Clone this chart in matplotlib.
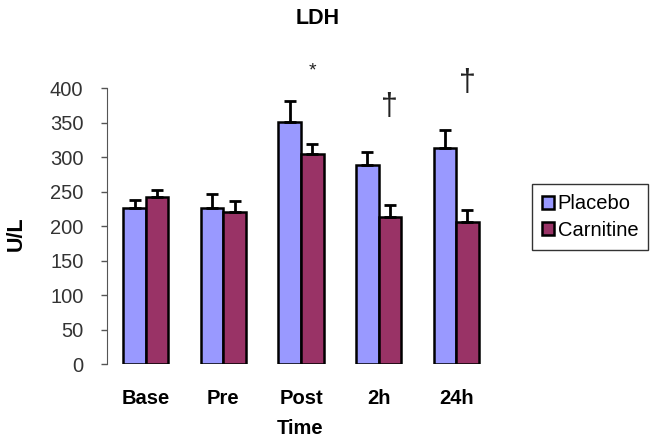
import numpy as np
import matplotlib.pyplot as plt

plt.rcParams['font.family'] = ['Liberation Sans', 'DejaVu Sans']

times = ["Base", "Pre", "Post", "2h", "24h"]
placebo = [226, 227, 351, 288, 314]
placebo_err = [12, 19, 30, 19, 26]
carnitine = [242, 221, 304, 214, 206]
carnitine_err = [10, 16, 15, 16, 17]

# significance marks: (group index, y value, symbol, size)
marks = [(2, 425, "*", 14), (3, 373, "\u2020", 22), (4, 408, "\u2020", 22)]

W, H = 664, 444
fig = plt.figure(figsize=(W / 100, H / 100), dpi=100)
ax = fig.add_axes([107 / W, 1 - 364 / H, (495 - 107) / W, (364 - 88.3) / H])

x = np.arange(len(times))
w = 0.29
err_kw = dict(ecolor="black", elinewidth=2, capsize=4, capthick=2)
ax.bar(x - w / 2, placebo, w, color="#9999FF", edgecolor="black", linewidth=1.8,
       yerr=[np.zeros(len(x)), placebo_err], error_kw=err_kw, label="Placebo")
ax.bar(x + w / 2, carnitine, w, color="#993366", edgecolor="black", linewidth=1.8,
       yerr=[np.zeros(len(x)), carnitine_err], error_kw=err_kw, label="Carnitine")

for i, yv, s, fs in marks:
    ax.text(i + w / 2, yv, s, ha="center", va="center", fontsize=fs, color="#222222",
            fontweight="light", clip_on=False)

ax.set_xlim(-0.5, 4.5)
ax.set_ylim(0, 400)
ax.set_yticks(np.arange(0, 401, 50))
ax.set_xticks(x)
ax.set_xticklabels(times, fontsize=14.5, fontweight="bold")
ax.tick_params(axis="x", length=0, pad=18)
ax.tick_params(axis="y", direction="out", length=4, width=1, color="#555555",
               labelsize=14.5, labelcolor="#333333", pad=13)
for sp in ["top", "right", "bottom"]:
    ax.spines[sp].set_visible(False)
ax.spines["left"].set_color("#555555")

fig.text(16.5 / W, 1 - 234 / H, "U/L", rotation=90, ha="center", va="center",
         fontsize=15.5, fontweight="bold")
fig.text(300 / W, 1 - 428 / H, "Time", ha="center", va="center", fontsize=14.5,
         fontweight="bold")
fig.text(318 / W, 1 - 19 / H, "LDH", ha="center", va="center", fontsize=15.5,
         fontweight="bold")

leg = fig.legend(loc="center", bbox_to_anchor=(590 / W, 1 - 217 / H), fontsize=14.5,
                 frameon=True, fancybox=False, edgecolor="black", handlelength=0.6,
                 handleheight=0.6, handletextpad=0.2, borderpad=0.5, labelspacing=0.35)
leg.get_frame().set_linewidth(1)

plt.savefig("out.png", dpi=100)
